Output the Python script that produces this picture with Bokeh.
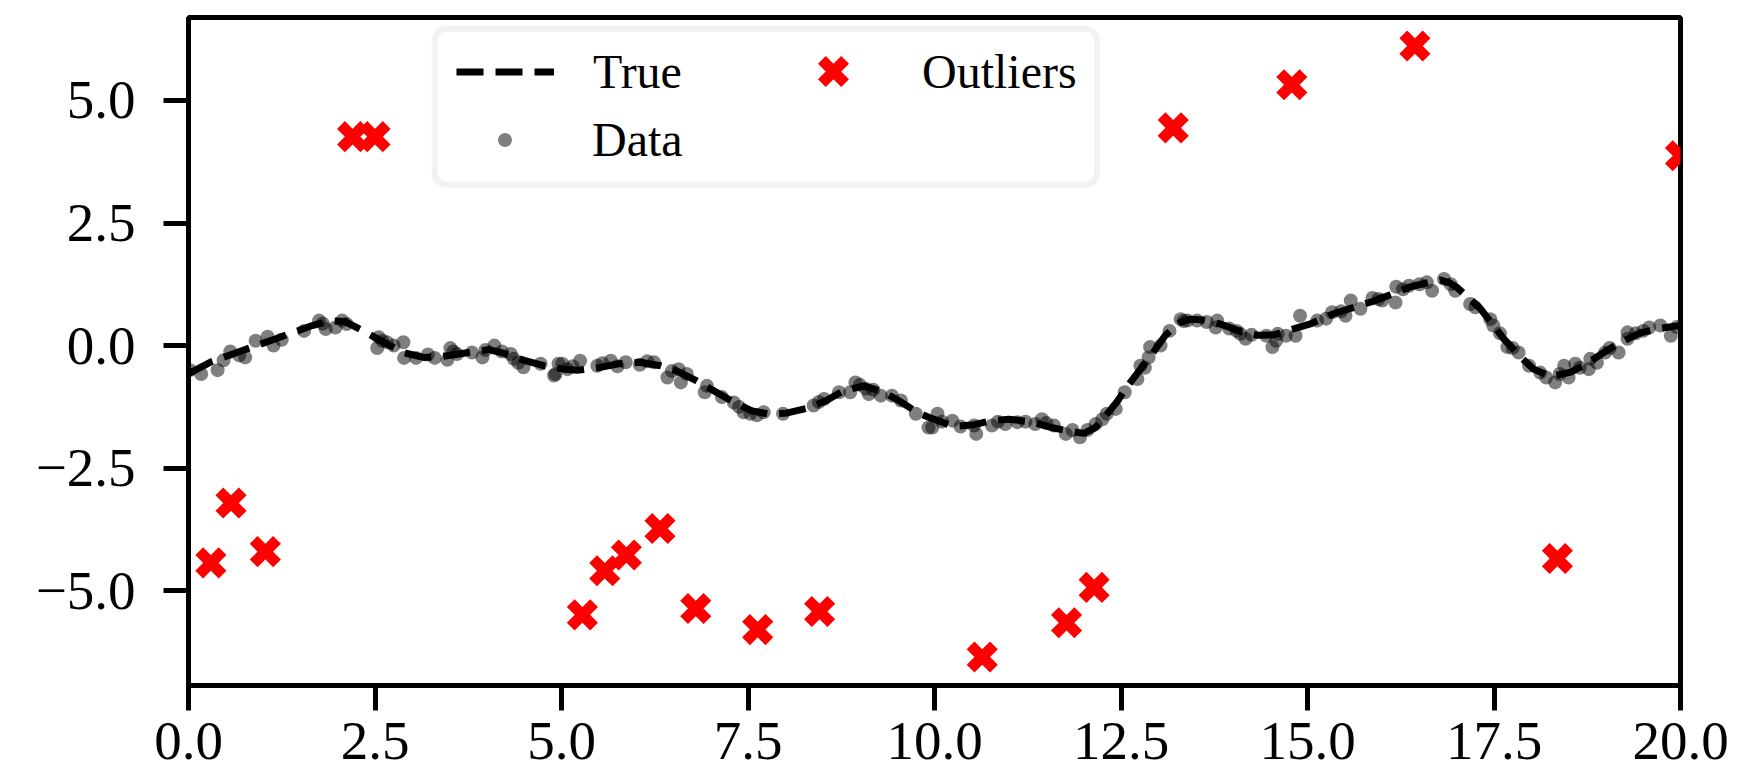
from bokeh.plotting import figure
from bokeh.models import Range1d, FixedTicker, Legend, LegendItem, BoxAnnotation
from bokeh.embed import file_html
from bokeh.resources import INLINE

# Underlying smooth signal
true_x = [0.0, 0.29, 0.65, 1.17, 1.66, 1.9, 2.1, 2.33, 2.66, 2.9, 3.15, 3.4, 3.67, 4.03, 4.23,
          4.5, 4.76, 5.03, 5.23, 5.5, 5.77, 6.05, 6.33, 6.55, 6.8, 7.27, 7.55, 7.76, 8.0, 8.29,
          8.55, 8.78, 9.05, 9.32, 9.55, 9.77, 9.92, 10.26, 10.5, 10.77, 11.0, 11.31, 11.6, 11.82,
          12.0, 12.15, 12.29, 12.45, 12.6, 12.93, 13.1, 13.3, 13.43, 13.6, 13.83, 14.1, 14.33,
          14.55, 14.77, 15.05, 15.35, 15.6, 15.87, 16.1, 16.38, 16.6, 16.78, 16.9, 17.0, 17.15,
          17.32, 17.63, 17.85, 18.03, 18.26, 18.53, 18.75, 18.97, 19.2, 19.46, 19.75, 20.0]
true_y = [-0.57, -0.34, -0.14, 0.14, 0.41, 0.51, 0.49, 0.31, 0.03, -0.15, -0.24, -0.22, -0.16,
          -0.08, -0.16, -0.3, -0.41, -0.48, -0.5, -0.45, -0.37, -0.34, -0.41, -0.52, -0.71, -1.12,
          -1.33, -1.39, -1.38, -1.28, -1.12, -0.92, -0.82, -0.95, -1.15, -1.36, -1.46, -1.65,
          -1.62, -1.53, -1.5, -1.56, -1.68, -1.75, -1.79, -1.68, -1.44, -1.14, -0.8, -0.14, 0.22,
          0.48, 0.54, 0.52, 0.44, 0.29, 0.21, 0.22, 0.32, 0.45, 0.65, 0.77, 0.9, 1.03, 1.2, 1.28,
          1.34, 1.28, 1.19, 0.99, 0.75, 0.14, -0.22, -0.48, -0.63, -0.54, -0.36, -0.14, 0.07, 0.26,
          0.36, 0.41]

# Noisy observations
data_x = [0.02, 0.17, 0.39, 0.56, 0.76, 0.90, 1.06, 1.14, 1.75, 1.80, 1.84, 1.97, 2.06, 2.12,
          2.53, 2.55, 2.60, 2.66, 2.75, 2.88, 2.89, 3.21, 3.47, 3.51, 3.55, 3.60, 3.80, 3.94,
          3.98, 4.10, 4.32, 4.36, 4.42, 4.49, 4.72, 4.90, 4.92, 4.96, 5.01, 5.08, 5.25, 5.48,
          5.55, 5.66, 5.86, 6.05, 6.24, 6.42, 6.48, 6.57, 6.60, 6.68, 6.92, 6.95, 7.31, 7.38,
          7.44, 7.53, 7.71, 7.97, 8.45, 8.52, 8.72, 8.87, 8.94, 9.00, 9.08, 9.12, 9.18, 9.28,
          9.43, 9.75, 9.92, 9.97, 10.04, 10.24, 10.35, 10.53, 10.56, 10.77, 10.95, 11.11, 11.22,
          11.35, 11.44, 11.60, 11.76, 11.85, 11.95, 12.16, 12.25, 12.31, 12.43, 12.72, 12.76,
          12.82, 12.87, 12.89, 13.03, 13.30, 13.34, 13.39, 13.52, 13.77, 13.79, 13.95, 14.05,
          14.10, 14.17, 14.45, 14.53, 14.58, 14.60, 14.71, 14.84, 14.90, 15.13, 15.33, 15.45,
          15.51, 15.58, 15.71, 15.87, 16.00, 16.18, 16.19, 16.28, 16.36, 16.60, 16.67, 16.83,
          16.92, 16.98, 17.18, 17.45, 17.49, 17.58, 17.68, 17.83, 17.97, 18.12, 18.32, 18.38,
          18.44, 18.50, 18.59, 18.77, 18.79, 18.88, 18.99, 19.17, 19.29, 19.29, 19.40, 19.58,
          19.73, 19.87, 19.95,
          0.47, 0.68, 1.25, 1.55, 3.05, 3.30, 4.20, 5.15, 5.75, 6.15, 7.15, 7.62, 8.38, 9.55,
          10.10, 10.85, 11.50, 12.05, 12.55, 13.15, 13.65, 14.25, 15.25, 15.95, 16.50, 17.25,
          17.75, 18.20, 18.65, 19.05, 19.50]
data_y = [-0.50, -0.58, -0.50, -0.12, -0.24, 0.10, 0.18, 0.00, 0.51, 0.45, 0.34, 0.37, 0.51, 0.44,
          -0.05, 0.17, 0.10, 0.07, 0.00, 0.07, -0.25, -0.18, -0.29, -0.05, -0.12, -0.17, -0.14,
          -0.24, -0.09, 0.00, -0.17, -0.27, -0.35, -0.44, -0.37, -0.61, -0.58, -0.37, -0.37,
          -0.48, -0.31, -0.41, -0.36, -0.31, -0.34, -0.39, -0.34, -0.65, -0.52, -0.48, -0.75,
          -0.58, -0.95, -0.82, -1.16, -1.25, -1.36, -1.39, -1.36, -1.39, -1.15, -1.09, -0.95,
          -0.95, -0.75, -0.80, -0.88, -0.99, -0.90, -1.02, -1.02, -1.39, -1.67, -1.67, -1.39,
          -1.53, -1.65, -1.63, -1.80, -1.63, -1.60, -1.56, -1.55, -1.60, -1.50, -1.63, -1.80,
          -1.72, -1.87, -1.60, -1.50, -1.39, -1.29, -0.68, -0.41, -0.45, -0.24, -0.03, 0.00,
          0.54, 0.50, 0.51, 0.51, 0.37, 0.51, 0.35, 0.30, 0.24, 0.14, 0.20, -0.03, 0.10, 0.24,
          0.20, 0.20, 0.61, 0.51, 0.68, 0.70, 0.61, 0.92, 0.75, 0.97, 0.92, 0.88, 1.20, 1.15,
          1.22, 1.29, 1.12, 1.36, 1.25, 1.12, 0.85, 0.54, 0.41, 0.25, -0.03, -0.14, -0.41, -0.55,
          -0.75, -0.58, -0.41, -0.65, -0.37, -0.48, -0.27, -0.35, -0.14, -0.14, 0.14, 0.27, 0.25,
          0.37, 0.41, 0.20, 0.38,
          -0.30, -0.20, 0.12, 0.30, -0.25, -0.25, -0.12, -0.42, -0.42, -0.32, -1.05, -1.42,
          -1.22, -1.12, -1.55, -1.55, -1.58, -1.72, -0.95, 0.30, 0.48, 0.22, 0.55, 0.95, 1.25,
          0.78, -0.05, -0.65, -0.45, -0.05, 0.30]

# Gross outliers
outlier_x = [0.30, 0.57, 1.03, 2.20, 2.50, 5.28, 5.58, 5.87, 6.32, 6.80, 7.63, 8.46, 10.64,
             11.77, 12.14, 13.20, 14.79, 16.44, 18.35, 20.0]
outlier_y = [-4.43, -3.21, -4.20, 4.26, 4.26, -5.49, -4.59, -4.27, -3.73, -5.36, -5.79, -5.42,
             -6.35, -5.65, -4.93, 4.44, 5.32, 6.11, -4.34, 3.87]

x_ticks = [0.0, 2.5, 5.0, 7.5, 10.0, 12.5, 15.0, 17.5, 20.0]
x_tick_labels = ["0.0", "2.5", "5.0", "7.5", "10.0", "12.5", "15.0", "17.5", "20.0"]
y_ticks = [-5.0, -2.5, 0.0, 2.5, 5.0]
y_tick_labels = ["\u22125.0", "\u22122.5", "0.0", "2.5", "5.0"]

SERIF = "Liberation Serif"

p = figure(width=1738, height=782, x_range=Range1d(0, 20), y_range=Range1d(-6.93, 6.69),
           output_backend="svg", toolbar_location=None,
           min_border_left=188, min_border_right=58, min_border_top=17, min_border_bottom=97)
p.grid.visible = False
p.outline_line_color = "black"
p.outline_line_width = 5
p.background_fill_color = "white"
p.border_fill_color = "white"

for ax in (p.xaxis[0], p.yaxis[0]):
    ax.axis_line_color = None
    ax.major_tick_line_color = "black"
    ax.major_tick_line_width = 5
    ax.major_tick_out = 25
    ax.major_tick_in = 0
    ax.minor_tick_line_color = None
    ax.major_label_text_font = SERIF
    ax.major_label_text_font_size = "55px"
    ax.major_label_text_color = "black"

p.xaxis.ticker = FixedTicker(ticks=x_ticks)
p.xaxis.major_label_overrides = dict(zip(x_ticks, x_tick_labels))
p.xaxis.major_label_standoff = 12
p.yaxis.ticker = FixedTicker(ticks=y_ticks)
p.yaxis.major_label_overrides = dict(zip(y_ticks, y_tick_labels))
p.yaxis.major_label_standoff = 28

true_r = p.line(true_x, true_y, line_color="black", line_width=7, line_dash="27 12")
data_r = p.scatter(data_x, data_y, size=14, fill_color="black", fill_alpha=0.5, line_color=None)
# bold red crosses drawn as thick strokes with square-cut ends
out_r = p.scatter(outlier_x, outlier_y, marker="x", size=33, line_color="red",
                  line_width=11, line_cap="butt")

# Legend frame
frame = BoxAnnotation(left=3.30, right=12.18, top=6.46, bottom=3.28,
                      fill_color="white", fill_alpha=0.8,
                      line_color="#d4d4d4", line_width=6, border_radius=12)
p.add_layout(frame)


def make_legend(label, renderer, loc, gw, gh, standoff):
    return Legend(items=[LegendItem(label=label, renderers=[renderer])], location=loc,
                  glyph_width=gw, glyph_height=gh, label_height=gh, label_standoff=standoff,
                  padding=0, margin=0, spacing=0, border_line_color=None,
                  background_fill_alpha=0, label_text_font=SERIF,
                  label_text_font_size="48px", label_text_color="black")


p.add_layout(make_legend("True", true_r, (268, 586), 98, 55, 39))
p.add_layout(make_legend("Data", data_r, (299, 518), 35, 55, 70))
p.add_layout(make_legend("Outliers", out_r, (604, 573), 82, 82, 48))

open("out.html", "w").write(file_html(p, INLINE))
